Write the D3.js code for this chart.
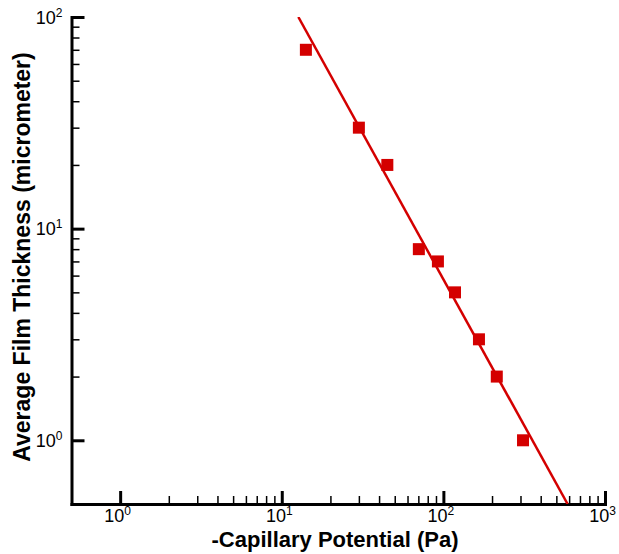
<!DOCTYPE html>
<html>
<head>
<meta charset="utf-8">
<script src="https://cdn.jsdelivr.net/npm/d3@7"></script>
<style>
  html, body { margin: 0; padding: 0; background: #fff; }
  svg { display: block; }
  text { font-family: "Liberation Sans", Arial, Helvetica, sans-serif; }
</style>
</head>
<body>
<svg id="chart" width="619" height="554"></svg>
<script>
// Measured film thickness versus capillary potential
const potential = [14.1, 30, 45, 70.5, 92.5, 118, 166, 214, 311];   // Pa
const thickness = [70, 30, 20, 8, 7, 5, 3, 2, 1];                  // micrometer

// Power-law fit, given by its two end points
const fitPotential = [12.66, 587];
const fitThickness = [100, 0.5];

// Axis settings
const xDomain = [0.5, 1000];
const yDomain = [0.5, 100];
const xMajorTicks = [1, 10, 100, 1000];
const yMajorTicks = [1, 10, 100];
const xTickExponents = ["0", "1", "2", "3"];
const yTickExponents = ["0", "1", "2"];
const xTitle = "-Capillary Potential (Pa)";
const yTitle = "Average Film Thickness (micrometer)";

const red = "#d40000";
const svg = d3.select("#chart");

const plot = { left: 71.5, right: 605, top: 17, bottom: 504 };

const x = d3.scaleLog().domain(xDomain).range([plot.left, plot.right]);
const y = d3.scaleLog().domain(yDomain).range([plot.bottom, plot.top]);

// minor ticks: 2..9 within each full decade
function minorTicks(majors) {
  const out = [];
  for (let i = 0; i < majors.length - 1; i++) {
    for (let k = 2; k <= 9; k++) out.push(majors[i] * k);
  }
  return out;
}

// clip region for the data layer
svg.append("clipPath").attr("id", "plot-clip")
  .append("rect")
  .attr("x", plot.left).attr("y", plot.top)
  .attr("width", plot.right - plot.left).attr("height", plot.bottom - plot.top);

// ---- axes ----
const axisStroke = 3;

// x minor ticks
svg.append("g")
  .attr("transform", `translate(0,${plot.bottom})`)
  .call(d3.axisBottom(x).tickValues(minorTicks(xMajorTicks)).tickSize(-8).tickSizeOuter(0).tickFormat(""))
  .call(g => g.select(".domain").remove())
  .call(g => g.selectAll(".tick line").attr("stroke", "#000").attr("stroke-width", 1.5));

// x major ticks + domain
const gx = svg.append("g")
  .attr("transform", `translate(0,${plot.bottom})`)
  .call(d3.axisBottom(x).tickValues(xMajorTicks).tickSize(-13).tickSizeOuter(0).tickPadding(5).tickFormat(""));
gx.select(".domain").attr("stroke", "#000").attr("stroke-width", axisStroke).attr("stroke-linecap", "square");
gx.selectAll(".tick line").attr("stroke", "#000").attr("stroke-width", axisStroke);
gx.selectAll(".tick text").remove();
gx.selectAll(".tick").each(function (d, i) {
  const t = d3.select(this).append("text")
    .attr("y", 18).attr("text-anchor", "middle")
    .attr("font-size", 18).attr("fill", "#000");
  t.append("tspan").attr("x", -3).attr("dy", 0).text("10");
  t.append("tspan").attr("dy", -7).attr("font-size", 12).text(xTickExponents[i]);
});

// y minor ticks
svg.append("g")
  .attr("transform", `translate(${plot.left},0)`)
  .call(d3.axisLeft(y).tickValues(minorTicks(yMajorTicks)).tickSize(-8).tickSizeOuter(0).tickFormat(""))
  .call(g => g.select(".domain").remove())
  .call(g => g.selectAll(".tick line").attr("stroke", "#000").attr("stroke-width", 1.5));

// y major ticks + domain
const gy = svg.append("g")
  .attr("transform", `translate(${plot.left},0)`)
  .call(d3.axisLeft(y).tickValues(yMajorTicks).tickSize(-13).tickSizeOuter(0).tickFormat(""));
gy.select(".domain").attr("stroke", "#000").attr("stroke-width", axisStroke).attr("stroke-linecap", "square");
gy.selectAll(".tick line").attr("stroke", "#000").attr("stroke-width", axisStroke);
gy.selectAll(".tick text").remove();
gy.selectAll(".tick").each(function (d, i) {
  const t = d3.select(this).append("text")
    .attr("x", -9).attr("y", 6).attr("text-anchor", "end")
    .attr("font-size", 18).attr("fill", "#000");
  t.append("tspan").text("10");
  t.append("tspan").attr("dy", -7).attr("font-size", 12).text(yTickExponents[i]);
});

// ---- axis titles ----
svg.append("text")
  .attr("x", 335).attr("y", 547)
  .attr("text-anchor", "middle")
  .attr("font-size", 22).attr("font-weight", "bold").attr("fill", "#000")
  .text(xTitle);

svg.append("text")
  .attr("transform", "translate(30,257) rotate(-90)")
  .attr("text-anchor", "middle")
  .attr("font-size", 23).attr("font-weight", "bold").attr("fill", "#000")
  .text(yTitle);

// ---- data layer ----
const layer = svg.append("g").attr("clip-path", "url(#plot-clip)");

const fit = fitPotential.map((p, i) => [p, fitThickness[i]]);
layer.append("path")
  .datum(fit)
  .attr("fill", "none")
  .attr("stroke", red)
  .attr("stroke-width", 2.5)
  .attr("d", d3.line().x(d => x(d[0])).y(d => y(d[1])));

const size = 12;
svg.append("g").selectAll("rect")
  .data(potential.map((p, i) => [p, thickness[i]]))
  .join("rect")
  .attr("x", d => x(d[0]) - size / 2)
  .attr("y", d => y(d[1]) - size / 2)
  .attr("width", size).attr("height", size)
  .attr("fill", red);
</script>
</body>
</html>
